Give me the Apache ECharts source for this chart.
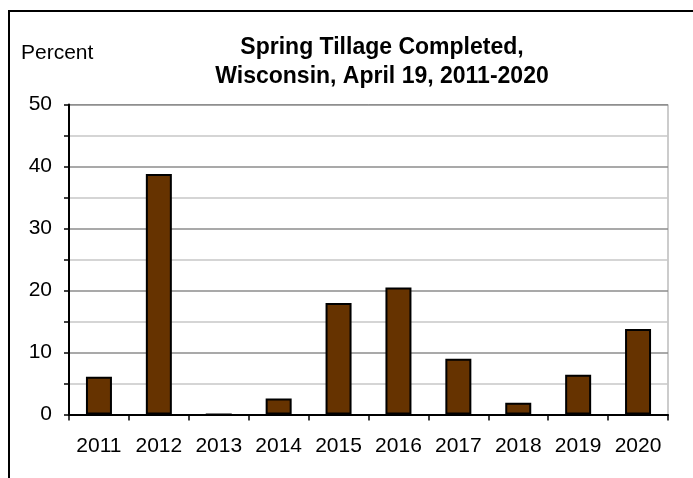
<!DOCTYPE html>
<html>
<head>
<meta charset="utf-8">
<script src="https://cdn.jsdelivr.net/npm/echarts@6/dist/echarts.min.js"></script>
<style>
html,body{margin:0;padding:0;background:#fff;}
#chart{width:693px;height:478px;}
</style>
</head>
<body>
<div id="chart"></div>
<script>
const years = ['2011','2012','2013','2014','2015','2016','2017','2018','2019','2020'];
const percentCompleted = [6.1, 38.8, 0, 2.6, 18.0, 20.5, 9.0, 1.9, 6.4, 13.8];
const yTicks = [0, 10, 20, 30, 40, 50];
const titleLines = ['Spring Tillage Completed,', 'Wisconsin, April 19, 2011-2020'];
const yAxisTitle = 'Percent';

const FONT = '"Liberation Sans", Arial, Helvetica, sans-serif';
const chart = echarts.init(document.getElementById('chart'), null, {renderer: 'canvas'});
chart.setOption({
  backgroundColor: '#ffffff',
  animation: false,
  grid: {left: 69, right: 25, top: 104.5, bottom: 63.5, show: true, borderColor: '#999999', borderWidth: 1, backgroundColor: 'transparent'},
  graphic: [
    {type: 'rect', shape: {x: 9, y: 11, width: 700, height: 480}, style: {fill: 'none', stroke: '#000', lineWidth: 2}, silent: true, z: 0},
    {type: 'text', x: 21, y: 53, style: {text: yAxisTitle, font: '21px ' + FONT, fill: '#000', textVerticalAlign: 'middle'}},
    {type: 'text', x: 382, y: 62, style: {text: titleLines.join('\n'), font: 'bold 23px ' + FONT, fill: '#000', textAlign: 'center', textVerticalAlign: 'middle', lineHeight: 29}}
  ],
  xAxis: {
    type: 'category',
    data: years,
    boundaryGap: true,
    axisLine: {lineStyle: {color: '#000', width: 2}},
    axisTick: {show: true, length: 6, alignWithLabel: false, lineStyle: {color: '#000', width: 1.5}},
    axisLabel: {color: '#000', fontSize: 21, fontFamily: FONT, margin: 21, interval: 0},
    splitLine: {show: false}
  },
  yAxis: {
    type: 'value',
    min: yTicks[0],
    max: yTicks[yTicks.length - 1],
    interval: 10,
    axisLine: {show: true, lineStyle: {color: '#000', width: 2}},
    axisTick: {show: true, length: 5, lineStyle: {color: '#000', width: 1.5}},
    minorTick: {show: true, splitNumber: 2, length: 5, lineStyle: {color: '#000', width: 1.5}},
    axisLabel: {color: '#000', fontSize: 21, fontFamily: FONT, margin: 17},
    splitLine: {show: true, lineStyle: {color: '#8c8c8c', width: 1.5}},
    minorSplitLine: {show: true, lineStyle: {color: '#c8c8c8', width: 1.5}}
  },
  series: [{
    type: 'bar',
    data: percentCompleted,
    barWidth: 26,
    itemStyle: {color: '#663300', borderColor: '#000', borderWidth: 2},
    z: 3
  }]
});
</script>
</body>
</html>
